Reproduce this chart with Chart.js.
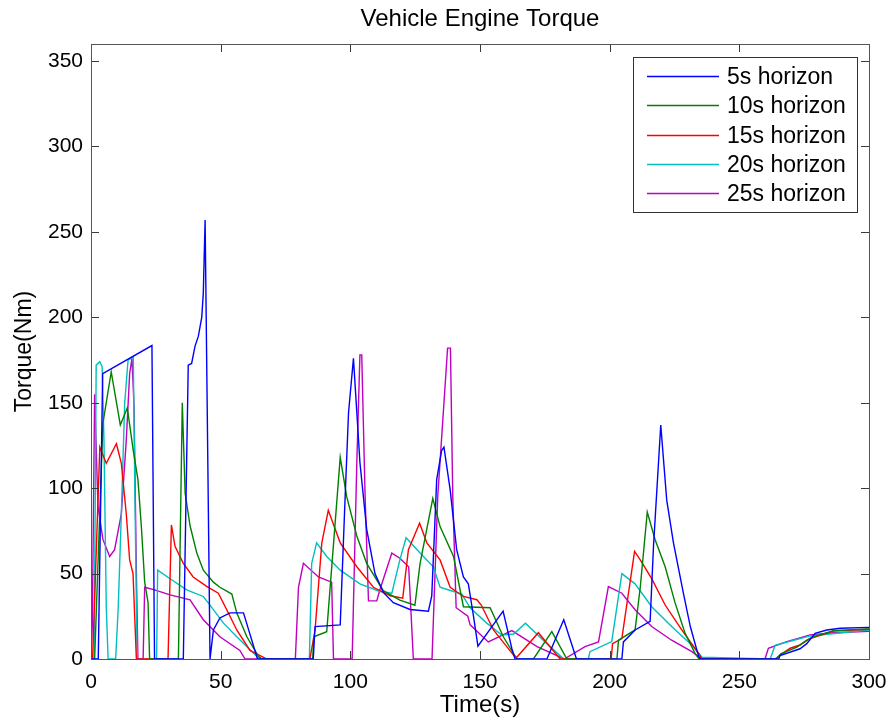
<!DOCTYPE html>
<html lang="en">
<head>
  <meta charset="UTF-8">
  <title>Vehicle Engine Torque</title>
  <script src="https://cdn.jsdelivr.net/npm/chart.js@4.4.1/dist/chart.umd.min.js"></script>
  <style>
    body {
      margin: 0;
      background-color: #fff;
    }

    .chart-container {
      width: 893px;
      height: 726px;
    }
  </style>
</head>
<body>
  <div class="chart-container">
    <canvas id="torqueChart"></canvas>
  </div>
  <script>
    // time (s) and torque (Nm), one pair of arrays per horizon
    const t5 = [0, 2.8, 4.5, 23.5, 24.5, 35.6, 37.5, 38.8, 40.1, 41.4, 42.7, 43.3, 44.0, 45.9, 47.2, 49.7, 53.6, 58.8, 64.2,
      85.7, 86.4, 96.1, 98.0, 99.3, 101.2, 103.7, 106.3, 109.5, 112.7, 116.6, 123, 130.1, 131.4, 133.3, 135.2, 136.1,
      138.5, 141, 143.6, 145.5, 147.5, 149.2, 158.9, 162.3, 163.5, 175.8, 182.3, 187.2, 204.7, 205.3, 209.8, 215.6,
      216.9, 219.7, 222, 224.6, 228.5, 231.1, 234.3, 235, 265.2, 265.7, 273.4, 276, 279.2, 283.7, 288.9, 300];
    const q5 = [0, 0, 167, 183.5, 0, 0, 172, 173, 183, 189, 200, 214, 257, 0, 17, 24, 27, 27, 0,
      0, 19, 20, 95, 144, 176, 115, 76, 50, 39, 33, 29, 28, 37, 105, 122, 124,
      99, 64, 48, 44, 25, 7.5, 28, 6, 0, 0, 23, 0, 0, 10, 17, 22,
      66, 137, 93, 68, 38, 19, 1.5, 0, 0, 2, 6, 9, 15, 17, 18, 18.5];

    const t10 = [0, 1.4, 4.6, 7.8, 11.3, 14.0, 16.2, 18.1, 19.4, 20.7, 22.0, 22.6, 33.7, 35.2, 36.3, 38.2, 40.8, 43.3,
      47.2, 49.7, 54.3, 56.2, 60.1, 64.6, 66, 85.5, 85.9, 90.9, 96.1, 98.6, 102.5, 106.3, 112.7, 119.1, 124.9, 126.9,
      131.8, 134.6, 139.8, 143.6, 153.9, 159, 164.2, 170.6, 177.7, 183.5, 202.8, 203.4, 209.8, 211.8, 214.5, 217.5,
      221.4, 225.2, 229.1, 233, 234.5, 264.4, 266, 272.2, 276, 278.6, 286.3, 300];
    const q10 = [0, 0, 138, 168, 137, 147, 123, 105, 78, 45, 33, 0, 0, 150, 97, 78, 62, 52,
      45, 42, 38, 27, 13, 1.5, 0, 0, 13, 16, 118, 95, 72, 56, 40, 34.5, 31.5, 56,
      94, 77.5, 60, 30.6, 30, 13, 0, 0, 16, 0, 0, 11, 17, 42, 86, 70,
      54, 33, 15, 3, 0, 0, 3, 7, 11, 13, 16.6, 17.6];

    const t15 = [0, 0.6, 3.4, 5.9, 9.8, 11.7, 13.6, 14.9, 16.2, 17.5, 29.7, 31.0, 32.4, 35.6, 39.4, 44.6, 49.1, 52.3,
      56.2, 61.3, 67.8, 84.4, 86.4, 89.0, 91.5, 96.1, 102.5, 108.9, 115.4, 120.2, 122.4, 126.7, 129.5, 134.6, 138.5,
      143.6, 148.8, 150.5, 155.2, 162.9, 164.2, 172.5, 180.9, 200.6, 201.1, 204.7, 209.6, 211.8, 216.2, 221.4, 227.8,
      234.3, 235.6, 263.8, 265.7, 269.6, 273.4, 277.3, 286.3, 300];
    const q15 = [0, 0, 124, 114.5, 126, 114.5, 85, 58, 50, 0, 0, 78.5, 66, 56, 48, 42.5, 38.5, 29,
      17, 5, 0, 0, 17, 68, 87, 68, 54, 42, 37, 35.6, 64, 79.5, 68, 58, 42,
      36.6, 34.7, 31.6, 17, 2.3, 1, 15.4, 0, 0, 9, 12, 63, 58, 47, 31.6, 17,
      3.3, 0, 0, 2.3, 6.3, 8.2, 12, 16.4, 17.4];

    const t20 = [0, 1.2, 2.0, 3.4, 4.3, 5.0, 5.9, 6.6, 9.5, 10.5, 11.7, 13.0, 14.3, 16.3, 16.9, 17.8, 25.3, 25.7, 30.5,
      36.9, 43.3, 45.3, 51.1, 56.2, 62.6, 65, 84.2, 85.1, 87.0, 90.9, 96.1, 103.7, 111.4, 116.0, 119.1, 121.5, 126.9,
      132.0, 134.6, 139.8, 143, 146.2, 152.6, 158.4, 163, 167.5, 175.8, 182.3, 191.8, 192.4, 200.8, 204.7, 209.8,
      216.2, 223.9, 231.7, 235.6, 261.9, 263.8, 271, 277.3, 300];
    const q20 = [0, 0, 172, 174, 171, 128, 30, 0, 0, 30, 85, 150, 175, 177, 100, 0, 0, 52, 47,
      40.5, 36.6, 32.7, 21, 13, 3.5, 0, 0, 56, 68, 60, 52, 44, 39.5, 38.5, 58, 71, 62,
      54, 42, 39.5, 38, 30, 21, 14, 14.6, 21, 9, 0, 0, 4.3, 10.2, 50, 44,
      30.6, 19, 8, 1, 0, 8, 11, 13.5, 17];

    const t25 = [0, 0.5, 1.4, 2.7, 4.6, 7.2, 9.1, 11.7, 13.6, 14.9, 15.8, 16.6, 17.5, 18.1, 20.1, 20.7, 24.5, 30.5,
      38.2, 43.3, 49.7, 57.4, 59.4, 78.8, 80.0, 81.9, 87.7, 92.8, 93.5, 100.7, 102.5, 103.7, 104.4, 105.7, 107.0,
      110.2, 111.4, 116.0, 119.1, 122.5, 124.3, 131.5, 133.7, 137.5, 138.6, 139.5, 140.8, 145.3, 146.2, 153.2, 162.3,
      172, 182.5, 190.5, 195.7, 199.5, 204.7, 209.8, 216.2, 223.9, 231.7, 235.6, 259.9, 261.2, 268.3, 277.3, 286.3, 300];
    const q25 = [0, 20, 155, 89, 70, 60, 64, 85, 128, 167, 176, 148, 50, 0, 0, 42, 40.5, 37.5,
      34.6, 23, 13, 5, 0, 0, 42, 56, 48, 45, 0, 0, 115, 178, 178, 95, 34,
      34, 40.5, 62, 59, 54, 0, 0, 95, 182, 182, 95, 30, 25, 20, 10, 16.6,
      7.2, 0, 7.2, 10, 42.4, 38.5, 28.8, 19, 11, 4.3, 0, 0, 6.3, 10.2, 14.1, 15.4, 16.2];

    const labels = ["5s horizon", "10s horizon", "15s horizon", "20s horizon", "25s horizon"];
    const colors = ["#0000ff", "#008000", "#ff0000", "#00bfbf", "#bf00bf"];
    const xTicks = [0, 50, 100, 150, 200, 250, 300];
    const yTicks = [0, 50, 100, 150, 200, 250, 300, 350];
    const chartTitle = "Vehicle Engine Torque";

    const series = [[t5, q5], [t10, q10], [t15, q15], [t20, q20], [t25, q25]];

    function toPoints(ts, qs) {
      return ts.map((t, i) => ({ x: t, y: qs[i] }));
    }

    const fontFamily = "'Liberation Sans', Arial, sans-serif";
    Chart.defaults.font.family = fontFamily;
    Chart.defaults.color = "#000";

    // matlab style frame: box on all sides with ticks pointing inwards, title centred over the axes
    const framePlugin = {
      id: "frame",
      afterDatasetsDraw(chart) {
        const ctx = chart.ctx;
        const a = chart.chartArea;
        const xs = chart.scales.x;
        const ys = chart.scales.y;
        ctx.save();
        ctx.strokeStyle = "#3a3a3a";
        ctx.lineWidth = 1;
        ctx.beginPath();
        xTicks.forEach(v => {
          const px = Math.round(xs.getPixelForValue(v)) + 0.5;
          ctx.moveTo(px, a.bottom); ctx.lineTo(px, a.bottom - 8);
          ctx.moveTo(px, a.top); ctx.lineTo(px, a.top + 8);
        });
        yTicks.forEach(v => {
          const py = Math.round(ys.getPixelForValue(v)) + 0.5;
          ctx.moveTo(a.left, py); ctx.lineTo(a.left + 8, py);
          ctx.moveTo(a.right, py); ctx.lineTo(a.right - 8, py);
        });
        ctx.stroke();
        ctx.strokeStyle = "#555";
        ctx.strokeRect(Math.round(a.left) + 0.5, Math.round(a.top) + 0.5,
          Math.round(a.right - a.left), Math.round(a.bottom - a.top));

        ctx.fillStyle = "#000";
        ctx.font = "24px " + fontFamily;
        ctx.textAlign = "center";
        ctx.textBaseline = "middle";
        ctx.fillText(chartTitle, (a.left + a.right) / 2, 19);
        ctx.restore();
      }
    };

    // legend box inside the top right corner
    const boxLegend = {
      id: "boxLegend",
      afterDraw(chart) {
        const ctx = chart.ctx;
        const a = chart.chartArea;
        const left = a.right - 236, top = a.top + 13, w = 224, h = 155;
        ctx.save();
        ctx.fillStyle = "#fff";
        ctx.fillRect(left, top, w, h);
        ctx.strokeStyle = "#333";
        ctx.lineWidth = 1;
        ctx.strokeRect(left + 0.5, top + 0.5, w, h);
        ctx.font = "23px " + fontFamily;
        ctx.textBaseline = "middle";
        ctx.textAlign = "left";
        labels.forEach((label, i) => {
          const y = Math.round(top + 19 + i * 29.3) + 0.5;
          ctx.strokeStyle = colors[i];
          ctx.lineWidth = 1.5;
          ctx.beginPath();
          ctx.moveTo(left + 14, y);
          ctx.lineTo(left + 86, y);
          ctx.stroke();
          ctx.fillStyle = "#000";
          ctx.fillText(label, left + 94, y + 1);
        });
        ctx.restore();
      }
    };

    const ctx = document.getElementById("torqueChart").getContext("2d");
    const torqueChart = new Chart(ctx, {
      type: "line",
      data: {
        datasets: series.map((s, i) => ({
          label: labels[i],
          data: toPoints(s[0], s[1]),
          borderColor: colors[i],
          borderWidth: 1.4,
          pointRadius: 0,
          tension: 0,
          fill: false
        }))
      },
      options: {
        responsive: true,
        maintainAspectRatio: false,
        animation: false,
        layout: { padding: { left: 0, right: 24, top: 44, bottom: 0 } },
        plugins: {
          legend: { display: false },
          tooltip: { enabled: false },
          title: { display: false }
        },
        scales: {
          x: {
            type: "linear",
            min: 0,
            max: 300,
            grid: { display: false, drawTicks: false },
            border: { display: false },
            ticks: { stepSize: 50, padding: 11, font: { size: 21 }, maxRotation: 0, includeBounds: false },
            title: { display: true, text: "Time(s)", font: { size: 24 }, padding: { top: 0, bottom: 6 } },
            afterFit(scale) {
              scale.height = 67;
              scale.paddingLeft = 0;
              scale.paddingRight = 0;
            }
          },
          y: {
            min: 0,
            max: 360,
            grid: { display: false, drawTicks: false },
            border: { display: false },
            ticks: { stepSize: 50, padding: 8, font: { size: 21 }, includeBounds: false },
            title: { display: true, text: "Torque(Nm)", font: { size: 23 }, padding: { top: 11, bottom: 0 } },
            afterFit(scale) { scale.width = 91; }
          }
        }
      },
      plugins: [framePlugin, boxLegend]
    });
  </script>
</body>
</html>
